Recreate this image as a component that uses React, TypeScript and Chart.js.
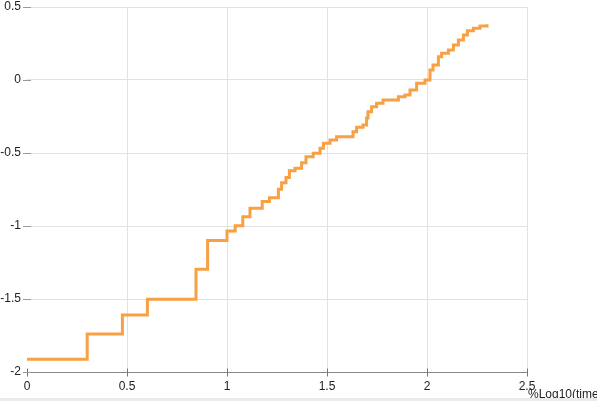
import React, { useEffect, useRef } from "react";
import { Chart, registerables } from "chart.js";

Chart.register(...registerables);

const xTickValues = [0, 0.5, 1, 1.5, 2, 2.5];
const yTickValues = [-2, -1.5, -1, -0.5, 0, 0.5];
const xTitle = "%Log10(time)";

const stepX = [
  0, 0.301, 0.477, 0.602, 0.845, 0.903, 1.0, 1.041, 1.079, 1.115, 1.176, 1.212,
  1.257, 1.273, 1.295, 1.312, 1.34, 1.373, 1.395, 1.431, 1.465, 1.482, 1.515,
  1.548, 1.63, 1.648, 1.68, 1.698, 1.705, 1.723, 1.748, 1.78, 1.857, 1.89, 1.915,
  1.948, 1.99, 2.015, 2.03, 2.057, 2.073, 2.107, 2.132, 2.157, 2.182, 2.202,
  2.232, 2.265, 2.3,
];
const stepY = [
  -1.913, -1.74, -1.61, -1.502, -1.297, -1.1, -1.034, -0.998, -0.936, -0.879,
  -0.833, -0.806, -0.749, -0.703, -0.667, -0.621, -0.605, -0.566, -0.525,
  -0.502, -0.468, -0.434, -0.411, -0.388, -0.354, -0.324, -0.308, -0.26,
  -0.217, -0.183, -0.16, -0.137, -0.114, -0.103, -0.068, -0.023, 0.0, 0.068,
  0.103, 0.16, 0.183, 0.205, 0.24, 0.274, 0.308, 0.338, 0.354, 0.37, 0.381,
];

const FONT = "'Liberation Sans', Arial, sans-serif";

export default function App() {
  const ref = useRef<HTMLCanvasElement | null>(null);

  useEffect(() => {
    if (!ref.current) return;
    const decor = {
      id: "decor",
      afterDraw(chart: any) {
        const { ctx, scales } = chart;
        const xs = scales.x;
        const ys = scales.y;
        ctx.save();
        ctx.strokeStyle = "#777";
        ctx.lineWidth = 1;
        const axisY = Math.round(ys.getPixelForValue(-2)) + 0.5;
        xTickValues.forEach((v) => {
          const px = Math.round(xs.getPixelForValue(v)) + 0.5;
          ctx.beginPath();
          ctx.moveTo(px, axisY - 4);
          ctx.lineTo(px, axisY + 4);
          ctx.stroke();
        });
        ctx.strokeStyle = "#999";
        const axisX = xs.getPixelForValue(0);
        yTickValues.forEach((v) => {
          const py = Math.round(ys.getPixelForValue(v)) + 0.5;
          ctx.beginPath();
          ctx.moveTo(axisX - 4, py);
          ctx.lineTo(axisX + 4, py);
          ctx.stroke();
        });
        ctx.fillStyle = "#222";
        ctx.font = "12px " + FONT;
        ctx.textAlign = "left";
        ctx.textBaseline = "alphabetic";
        ctx.fillText(xTitle, xs.getPixelForValue(2.5) + 1, 398);
        ctx.fillStyle = "#ebebeb";
        ctx.fillRect(0, 398, chart.width, chart.height - 398);
        ctx.restore();
      },
    };

    const chart = new Chart(ref.current, {
      type: "line",
      data: {
        datasets: [
          {
            data: stepX.map((x, i) => ({ x, y: stepY[i] })),
            borderColor: "#f8a044",
            borderWidth: 3,
            pointRadius: 0,
            stepped: true,
            fill: false,
          },
        ],
      },
      options: {
        responsive: false,
        animation: false,
        layout: { padding: { top: 7, right: 70, left: 0, bottom: 0 } },
        plugins: { legend: { display: false }, tooltip: { enabled: false } },
        scales: {
          x: {
            type: "linear",
            min: 0,
            max: 2.5,
            afterFit: (s: any) => {
              s.height = 29;
              s.paddingLeft = 0;
              s.paddingRight = 0;
            },
            afterBuildTicks: (s: any) => {
              s.ticks = xTickValues.map((v) => ({ value: v }));
            },
            ticks: {
              callback: (v: any) => String(Math.round(Number(v) * 10) / 10),
              color: "#222",
              font: { family: FONT, size: 12 },
              padding: 7,
              maxRotation: 0,
            },
            grid: {
              drawTicks: false,
              color: (c: any) => (c.index === 0 ? "rgba(0,0,0,0)" : "#e2e2e2"),
            },
            border: { display: true, color: "#888" },
          },
          y: {
            type: "linear",
            min: -2,
            max: 0.5,
            afterFit: (s: any) => {
              s.width = 27;
              s.paddingTop = 0;
              s.paddingBottom = 0;
            },
            afterBuildTicks: (s: any) => {
              s.ticks = yTickValues.map((v) => ({ value: v }));
            },
            ticks: {
              callback: (v: any) => String(Math.round(Number(v) * 10) / 10),
              color: "#222",
              font: { family: FONT, size: 12 },
              padding: 6,
            },
            grid: {
              drawTicks: false,
              color: (c: any) => (c.index === 0 ? "rgba(0,0,0,0)" : "#e2e2e2"),
            },
            border: { display: false },
          },
        },
      },
      plugins: [decor],
    });
    return () => chart.destroy();
  }, []);

  return (
    <div style={{ position: "absolute", left: 0, top: 0, width: 597, height: 401, background: "#fff" }}>
      <canvas ref={ref} width={597} height={401} style={{ display: "block" }} />
    </div>
  );
}
